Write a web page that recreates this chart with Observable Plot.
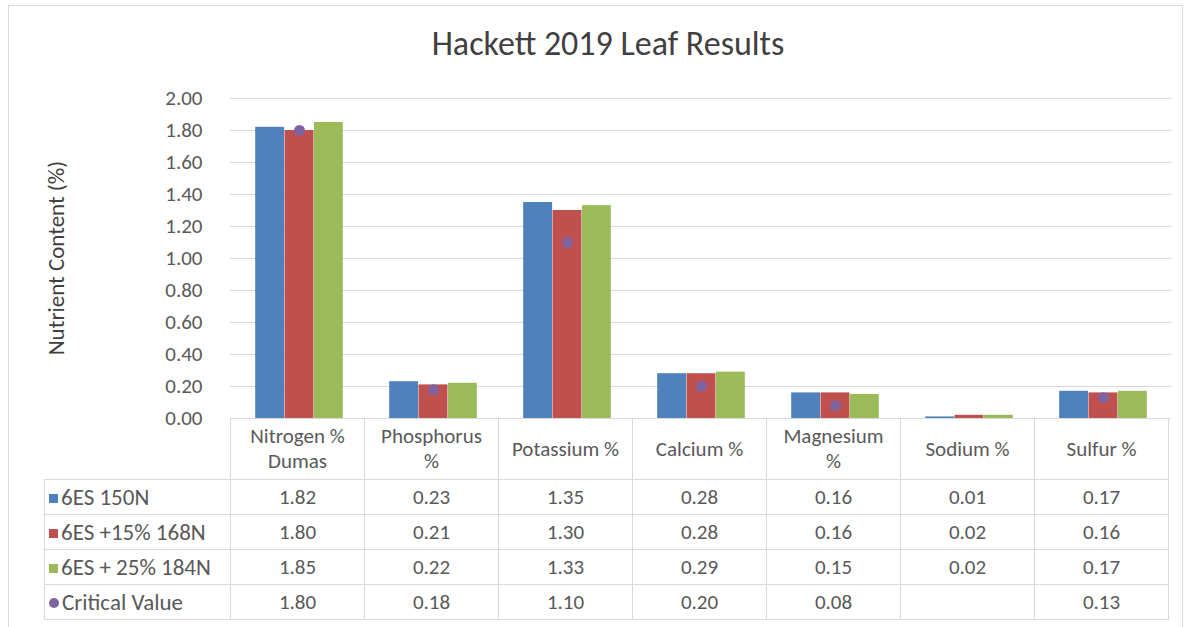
<!DOCTYPE html>
<html>
<head>
<meta charset="utf-8">
<script src="https://cdn.jsdelivr.net/npm/d3@7"></script>
<script src="https://cdn.jsdelivr.net/npm/@observablehq/plot@0.6"></script>
<style>
  html, body { margin: 0; padding: 0; background: #fff; overflow: hidden; }
  body { width: 1190px; height: 627px; position: relative; font-family: Carlito, Calibri, Lato, sans-serif; }
  #frame { position: absolute; left: 8px; top: 5px; width: 1175px; height: 660px; border: 1px solid #d9d9d9; box-sizing: border-box; }
  #title { position: absolute; left: 0; top: 23px; width: 1216px; text-align: center; font-size: 34px; color: #404040; }
  #chart { position: absolute; left: 0; top: 0; }
  #ytitle { position: absolute; left: 56px; top: 258px; transform: translate(-50%, -50%) rotate(-90deg); white-space: nowrap; font-size: 23px; color: #404040; }
  table { position: absolute; border-collapse: collapse; table-layout: fixed; font-size: 21px; color: #595959; }
  td { border: 1px solid #d9d9d9; text-align: center; padding: 0; box-sizing: border-box; }
  td.blank { border-top: none; border-left: none; }
  td.hdr { white-space: pre-line; line-height: 25px; }
  td.leg { text-align: left; padding-left: 4px; white-space: nowrap; font-size: 23px; }
  .sw { display: inline-block; width: 9px; height: 9px; margin-right: 3px; vertical-align: 2px; }
  .ci { border-radius: 50%; width: 10px; height: 10px; }
</style>
</head>
<body>
<div id="frame"></div>
<div id="chart"></div>
<div id="title">Hackett 2019 Leaf Results</div>
<div id="ytitle">Nutrient Content (%)</div>
<script>
// ---- data ----
const categories = ["Nitrogen %\nDumas", "Phosphorus\n%", "Potassium %", "Calcium %", "Magnesium\n%", "Sodium %", "Sulfur %"];
const seriesNames = ["6ES 150N", "6ES +15% 168N", "6ES + 25% 184N"];
const s150N = [1.82, 0.23, 1.35, 0.28, 0.16, 0.01, 0.17];
const s168N = [1.80, 0.21, 1.30, 0.28, 0.16, 0.02, 0.16];
const s184N = [1.85, 0.22, 1.33, 0.29, 0.15, 0.02, 0.17];
const criticalName = "Critical Value";
const critical = [1.80, 0.18, 1.10, 0.20, 0.08, null, 0.13];
const yTicks = [0, 0.2, 0.4, 0.6, 0.8, 1.0, 1.2, 1.4, 1.6, 1.8, 2.0];

// ---- styling ----
const colors = ["#4F81BD", "#C0504D", "#9BBB59"];
const critColor = "#8064A2";
const W = 1190, H = 440, ML = 230, MR = 19, MT = 98, MB = 22;

const seriesValues = [s150N, s168N, s184N];
const rows = categories.flatMap((c, j) => seriesNames.map((s, i) => ({cat: c, series: s, idx: i, value: seriesValues[i][j]})));
const critRows = categories.map((c, j) => ({cat: c, value: critical[j]})).filter(d => d.value != null);

const band = (W - ML - MR) / categories.length;
const groupW = band * 0.655, barW = groupW / 3, off = (band - groupW) / 2;

const chart = Plot.plot({
  width: W, height: H,
  marginLeft: ML, marginRight: MR, marginTop: MT, marginBottom: MB,
  style: {fontFamily: "Carlito, Calibri, Lato, sans-serif", fontSize: "21px", color: "#595959", background: "transparent"},
  x: {type: "band", domain: categories, padding: 0, axis: null},
  y: {domain: [0, 2], axis: null},
  marks: [
    Plot.ruleY(yTicks, {stroke: "#d9d9d9", strokeWidth: 1}),
    Plot.axisY(yTicks, {tickSize: 0, tickPadding: 28, tickFormat: d3.format(".2f"), fontSize: 21, label: null}),
    ...seriesNames.map((s, i) => Plot.barY(rows.filter(d => d.idx === i), {
      x: "cat", y: "value", fill: colors[i],
      insetLeft: off + i * barW, insetRight: off + (2 - i) * barW
    })),
    Plot.dot(critRows, {x: "cat", y: "value", r: 5.5, fill: critColor})
  ]
});
document.getElementById("chart").appendChild(chart);

// ---- data table below the plot, aligned to the x scale ----
const xs = chart.scale("x");
const bw = xs.bandwidth;
const x0 = xs.range[0];
const legW = 186;
const table = document.createElement("table");
table.style.left = (x0 - legW) + "px";
table.style.top = (H - MB) + "px";
table.style.width = (legW + bw * categories.length) + "px";
const cg = document.createElement("colgroup");
[legW, ...categories.map(() => bw)].forEach(w => { const c = document.createElement("col"); c.style.width = w + "px"; cg.appendChild(c); });
table.appendChild(cg);
const hr = document.createElement("tr");
hr.style.height = "61px";
const blank = document.createElement("td"); blank.className = "blank"; hr.appendChild(blank);
categories.forEach(c => { const td = document.createElement("td"); td.className = "hdr"; td.textContent = c; hr.appendChild(td); });
table.appendChild(hr);
const allRows = [...seriesNames.map((s, i) => ({name: s, vals: seriesValues[i], color: colors[i], circle: false})),
                 {name: criticalName, vals: critical, color: critColor, circle: true}];
allRows.forEach(r => {
  const tr = document.createElement("tr");
  tr.style.height = "35px";
  const lg = document.createElement("td"); lg.className = "leg";
  const sw = document.createElement("span"); sw.className = "sw" + (r.circle ? " ci" : ""); sw.style.background = r.color;
  lg.appendChild(sw); lg.appendChild(document.createTextNode(r.name));
  tr.appendChild(lg);
  r.vals.forEach(v => { const td = document.createElement("td"); td.textContent = v == null ? "" : d3.format(".2f")(v); tr.appendChild(td); });
  table.appendChild(tr);
});
document.body.appendChild(table);
</script>
</body>
</html>
